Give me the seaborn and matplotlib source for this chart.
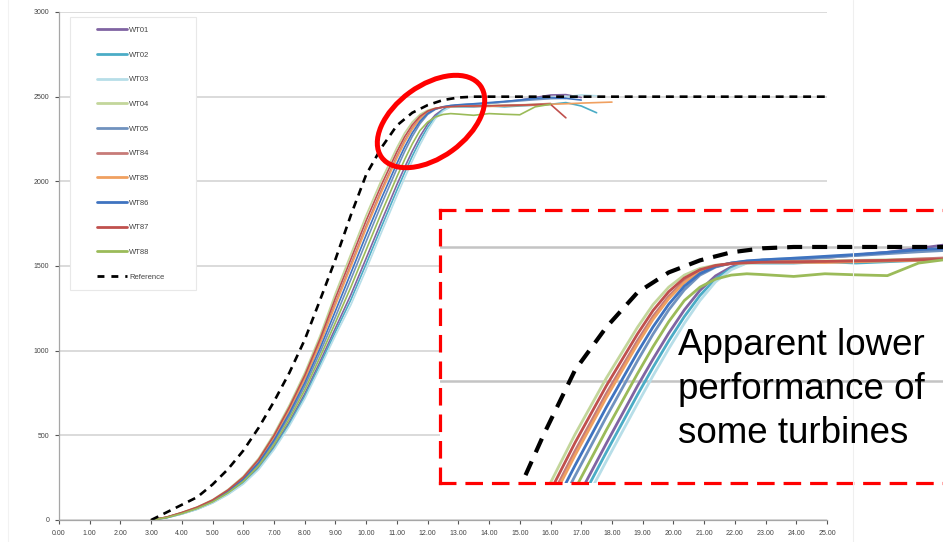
import numpy as np
import pandas as pd
import matplotlib
matplotlib.use('Agg')
import matplotlib.pyplot as plt
import seaborn as sns
from matplotlib.patches import Ellipse, Rectangle
from matplotlib.transforms import IdentityTransform
from matplotlib.lines import Line2D

sns.set_theme(style='white')
plt.rcParams['font.family'] = ['Liberation Sans', 'DejaVu Sans']

nan = np.nan
# wind speed grid (m/s)
wind_speed = [3.0, 3.5, 4.0, 4.5, 5.0, 5.5, 6.0, 6.5, 7.0, 7.5, 8.0, 8.5, 9.0, 9.5,
              10.0, 10.5, 11.0, 11.25, 11.5, 11.75, 12.0, 12.25, 12.5, 12.75, 13.0,
              13.5, 14.0, 14.5, 15.0, 15.5, 16.0, 16.5, 17.0, 17.5, 18.0]

wt01 = [0, 14, 37, 66, 104, 156, 221, 311, 433, 579, 745, 936, 1134, 1330, 1546, 1766, 1981, 2082,
        2178, 2265, 2338, 2392, 2425, 2443, 2451, 2455, 2460, 2470, 2480, 2495, 2510, 2512, 2495, nan, nan]
wt02 = [0, 13, 36, 64, 102, 153, 217, 304, 424, 567, 730, 918, 1112, 1300, 1513, 1733, 1948, 2051,
        2149, 2240, 2319, 2381, 2420, 2441, 2440, 2440, 2445, 2440, 2445, 2450, 2455, 2465, 2445, 2405, nan]
wt03 = [0, 13, 35, 63, 100, 150, 212, 298, 415, 555, 715, 900, 1090, 1270, 1480, 1700, 1915, 2020,
        2120, 2215, 2300, 2370, 2415, 2440, 2452, 2458, 2462, 2470, 2478, 2488, 2495, 2500, 2510, 2505, nan]
wt04 = [0, 17, 45, 77, 120, 180, 258, 365, 510, 680, 870, 1090, 1340, 1570, 1800, 2010, 2200, 2285,
        2350, 2395, 2420, 2432, 2438, 2440, 2442, 2445, 2448, 2450, 2452, 2455, 2458, nan, nan, nan, nan]
wt05 = [0, 15, 40, 70, 110, 165, 235, 330, 460, 615, 790, 990, 1200, 1420, 1645, 1865, 2075, 2175,
        2265, 2340, 2395, 2425, 2440, 2447, 2450, 2455, 2462, 2468, 2475, 2482, 2488, 2490, nan, nan, nan]
wt84 = [0, 16, 43, 74, 116, 174, 249, 351, 490, 654, 838, 1050, 1284, 1510, 1738, 1952, 2150, 2241,
        2316, 2373, 2410, 2429, 2439, 2444, 2445, 2442, 2445, 2448, 2450, 2455, 2460, nan, nan, nan, nan]
wt85 = [0, 16, 42, 73, 115, 172, 246, 347, 485, 647, 830, 1040, 1270, 1495, 1722, 1937, 2137, 2230,
        2307, 2367, 2407, 2428, 2439, 2443, 2446, 2444, 2442, 2445, 2448, 2450, 2455, 2458, 2462, 2465, 2468]
wt86 = [0, 15, 41, 72, 112, 169, 241, 339, 472, 631, 810, 1015, 1235, 1458, 1684, 1901, 2106, 2202,
        2286, 2354, 2401, 2427, 2440, 2448, 2452, 2458, 2465, 2472, 2480, 2490, 2495, 2490, 2480, nan, nan]
wt87 = [0, 17, 44, 76, 118, 177, 253, 358, 500, 667, 854, 1070, 1312, 1540, 1769, 1981, 2175, 2263,
        2333, 2384, 2415, 2431, 2438, 2441, 2443, 2445, 2446, 2448, 2450, 2452, 2455, 2375, nan, nan, nan]
wt88 = [0, 14, 38, 68, 107, 160, 228, 320, 446, 597, 768, 963, 1167, 1375, 1596, 1816, 2027, 2128,
        2221, 2300, 2350, 2380, 2395, 2400, 2397, 2390, 2400, 2396, 2393, 2440, 2455, nan, nan, nan, nan]

ref_ws = [3.0, 3.5, 4.0, 4.5, 5.0, 5.5, 6.0, 6.5, 7.0, 7.5, 8.0, 8.5, 9.0, 9.5, 10.0, 10.5,
          11.0, 11.5, 12.0, 12.5, 13.0, 13.5, 14.0, 25.0]
ref_p = [0, 45, 90, 135, 210, 300, 410, 545, 700, 870, 1065, 1300, 1540, 1800, 2040, 2200,
         2330, 2405, 2450, 2480, 2495, 2500, 2500, 2500]

names = ['WT01', 'WT02', 'WT03', 'WT04', 'WT05', 'WT84', 'WT85', 'WT86', 'WT87', 'WT88']
series = [wt01, wt02, wt03, wt04, wt05, wt84, wt85, wt86, wt87, wt88]
colors = ['#8064A2', '#4BACC6', '#B7DEE8', '#C3D69B', '#7092BE',
          '#C77B78', '#F0A060', '#3F73C0', '#C0504D', '#9BBB59']
x_ticks = [float(v) for v in range(26)]
x_labels = [f'{v:.2f}' for v in x_ticks]
y_ticks = [0, 500, 1000, 1500, 2000, 2500, 3000]

rows = []
for n, s in zip(names, series):
    for w, p in zip(wind_speed, s):
        rows.append((n, w, p))
df = pd.DataFrame(rows, columns=['turbine', 'ws', 'power']).dropna()
palette = dict(zip(names, colors))

W, H = 943, 542
fig = plt.figure(figsize=(W / 100, H / 100), dpi=100)
fig.patch.set_facecolor('white')

# main axes
ax = fig.add_axes([59 / W, 22 / H, 768 / W, 508 / H])
sns.lineplot(data=df, x='ws', y='power', hue='turbine', hue_order=names, palette=palette,
             estimator=None, sort=False, legend=False, linewidth=1.2, ax=ax)
sns.lineplot(x=ref_ws, y=ref_p, color='black', linewidth=1.9, estimator=None, sort=False, ax=ax)
ax.get_lines()[-1].set_linestyle((0, (3.0, 2.2)))
ax.set_xlim(0, 25)
ax.set_ylim(0, 3000)
ax.set_xticks(x_ticks)
ax.set_xticklabels(x_labels)
ax.set_yticks(y_ticks)
ax.set_yticklabels([str(v) for v in y_ticks])
ax.set_xlabel('')
ax.set_ylabel('')
ax.tick_params(axis='both', labelsize=5, colors='#555555', length=3, width=0.8,
               direction='out', bottom=True, left=True, pad=4)
for lab in ax.get_xticklabels() + ax.get_yticklabels():
    lab.set_color('#444444')
ax.yaxis.grid(True, color='#D4D4D4', linewidth=1.2)
ax.xaxis.grid(False)
ax.set_axisbelow(True)
for side in ['top', 'right']:
    ax.spines[side].set_visible(False)
for side in ['left', 'bottom']:
    ax.spines[side].set_color('#A6A6A6')
    ax.spines[side].set_linewidth(0.9)

# legend box
ax.add_patch(Rectangle((0.0143, 0.453), 0.1637, 0.537, transform=ax.transAxes,
                       facecolor='white', edgecolor='#E8E8E8', linewidth=0.8, zorder=2.5))
handles = [Line2D([], [], color=c, lw=2.0) for c in colors]
handles.append(Line2D([], [], color='black', lw=2.0, linestyle=(0, (2.5, 2.5))))
leg = ax.legend(handles, names + ['Reference'], loc='upper left', bbox_to_anchor=(0.0495, 0.9715),
                frameon=False, fontsize=5.5, handlelength=3.9, handletextpad=0.3,
                labelspacing=2.27, borderpad=0, borderaxespad=0)
leg.set_zorder(5)
for t in leg.get_texts():
    t.set_color('#444444')

# faint chart borders
fig.add_artist(Line2D([853, 853], [0, H], transform=IdentityTransform(), color='#EFEFEF', lw=0.8))
fig.add_artist(Line2D([8, 8], [0, H], transform=IdentityTransform(), color='#F2F2F2', lw=0.8))

# red ellipse
fig.add_artist(Ellipse((431, H - 121.5), width=122, height=72, angle=36,
                       transform=IdentityTransform(), fill=False, edgecolor='#FF0000', lw=3.6))

# inset
axi = fig.add_axes([440 / W, 59 / H, 508 / W, 273 / H])
axi.set_facecolor('white')
sns.lineplot(data=df, x='ws', y='power', hue='turbine', hue_order=names, palette=palette,
             estimator=None, sort=False, legend=False, linewidth=2.0, ax=axi)
sns.lineplot(x=ref_ws, y=ref_p, color='black', linewidth=3.0, estimator=None, sort=False, ax=axi)
axi.get_lines()[-1].set_linestyle((0, (3.6, 2.4)))
axi.set_xlim(7.84, 15.97)
axi.set_ylim(1619, 2638)
axi.set_xticks([])
axi.set_yticks([2000, 2500])
axi.tick_params(length=0, labelleft=False, left=False, bottom=False)
axi.set_xlabel('')
axi.set_ylabel('')
axi.yaxis.grid(True, color='#C4C4C4', linewidth=1.8)
axi.set_axisbelow(True)
for side in ['top', 'right', 'left', 'bottom']:
    sp = axi.spines[side]
    sp.set_visible(True)
    sp.set_color('#FF0000')
    sp.set_linewidth(2.3)
    sp.set_linestyle((0, (4.5, 3.8)))

fig.text(678 / W, 1 - 328 / H, 'Apparent lower\nperformance of\nsome turbines',
         fontsize=26.5, ha='left', va='top', color='black', linespacing=1.33,
         family=['Liberation Sans', 'DejaVu Sans'])

fig.savefig('out.png', dpi=100)
